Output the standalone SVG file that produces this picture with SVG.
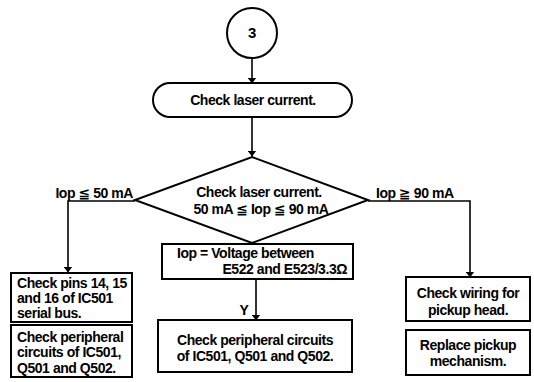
<svg xmlns="http://www.w3.org/2000/svg" width="534" height="382" viewBox="0 0 534 382">
<style>
.s{fill:#fff;stroke:#000;stroke-width:2}
.l{fill:none;stroke:#000;stroke-width:1.6}
text{font-family:"Liberation Sans","DejaVu Sans",Arial,sans-serif;font-weight:bold;font-size:14px;letter-spacing:-0.45px;fill:#000}
.c{text-anchor:middle}
</style>
<defs>
<marker id="a" markerWidth="6" markerHeight="9" refX="5.5" refY="4.5" orient="auto" markerUnits="userSpaceOnUse">
<path d="M0,0 L6,4.5 L0,9 z" fill="#000"/>
</marker>
</defs>
<g id="connectors">
<line class="l" x1="252" y1="58" x2="252" y2="83" marker-end="url(#a)"/>
<line class="l" x1="252" y1="117" x2="252" y2="156" marker-end="url(#a)"/>
<polyline class="l" points="135,201 68,201 68,272" marker-end="url(#a)"/>
<polyline class="l" points="368,201 470,201 470,277" marker-end="url(#a)"/>
<line class="l" x1="256" y1="279" x2="256" y2="320" marker-end="url(#a)"/>
<text x="133" y="198" style="text-anchor:end">Iop ≦ 50 mA</text>
<text x="376" y="198">Iop ≧ 90 mA</text>
<text x="244" y="315" class="c">Y</text>
</g>
<g id="start">
<circle class="s" cx="252" cy="33" r="25"/>
<text x="252" y="38" class="c" style="font-size:15px">3</text>
</g>
<g id="check1">
<rect class="s" x="153" y="83" width="199" height="34" rx="17"/>
<text x="253" y="105" class="c">Check laser current.</text>
</g>
<g id="decision">
<polygon class="s" points="252,157 368,200 252,243 135,200"/>
<text x="259" y="197" class="c">Check laser current.</text>
<text x="261" y="214" class="c">50 mA ≦ Iop ≦ 90 mA</text>
</g>
<g id="iop">
<rect class="s" x="162" y="244" width="191" height="35"/>
<text x="177" y="258">Iop = Voltage between</text>
<text x="347" y="274" style="text-anchor:end">E522 and E523/3.3Ω</text>
</g>
<g id="periph-center">
<rect class="s" x="158" y="320" width="194" height="52"/>
<text x="255" y="345" class="c">Check peripheral circuits</text>
<text x="255" y="361" class="c">of IC501, Q501 and Q502.</text>
</g>
<g id="pins">
<rect class="s" x="11" y="273" width="121" height="49"/>
<text x="17" y="288">Check pins 14, 15</text>
<text x="17" y="303">and 16 of IC501</text>
<text x="17" y="318">serial bus.</text>
</g>
<g id="periph-left">
<rect class="s" x="11" y="325" width="121" height="52"/>
<text x="17" y="342">Check peripheral</text>
<text x="17" y="357">circuits of IC501,</text>
<text x="17" y="373">Q501 and Q502.</text>
</g>
<g id="wiring">
<rect class="s" x="406" y="277" width="124" height="44"/>
<text x="468" y="298" class="c">Check wiring for</text>
<text x="468" y="315" class="c">pickup head.</text>
</g>
<g id="replace">
<rect class="s" x="406" y="330" width="124" height="45"/>
<text x="468" y="350" class="c">Replace pickup</text>
<text x="468" y="366" class="c">mechanism.</text>
</g>
</svg>
